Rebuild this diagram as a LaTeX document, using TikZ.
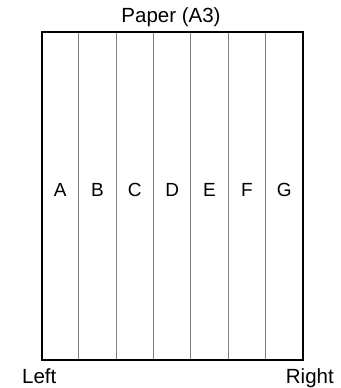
\documentclass[tikz,border=0pt]{standalone}
\usepackage{fontspec}
\setmainfont{Liberation Sans}
\begin{document}
\begin{tikzpicture}[x=1pt, y=-1pt, font=\fontsize{20.5}{23}\selectfont]
    \useasboundingbox (0,0) rectangle (340,388);
    \foreach \i in {1,...,6}
        \draw[gray, line width=1pt] ({41.5+37.33*\i},32) -- ({41.5+37.33*\i},360);
    \draw[line width=2pt] (41.5,32) rectangle (303,360);
    \foreach \l [count=\i from 0] in {A,B,C,D,E,F,G}
        \node[anchor=base, inner sep=0pt, font=\fontsize{19}{22}\selectfont] (col\l) at ({41.5+37.33*(\i+0.5)},196) {\l};
    \node[anchor=base, inner sep=0pt] (paper) at (171,23) {Paper (A3)};
    \node[anchor=base west, inner sep=0pt] (left) at (22,383) {Left};
    \node[anchor=base east, inner sep=0pt] (right) at (334,383) {Right};
\end{tikzpicture}
\end{document}
